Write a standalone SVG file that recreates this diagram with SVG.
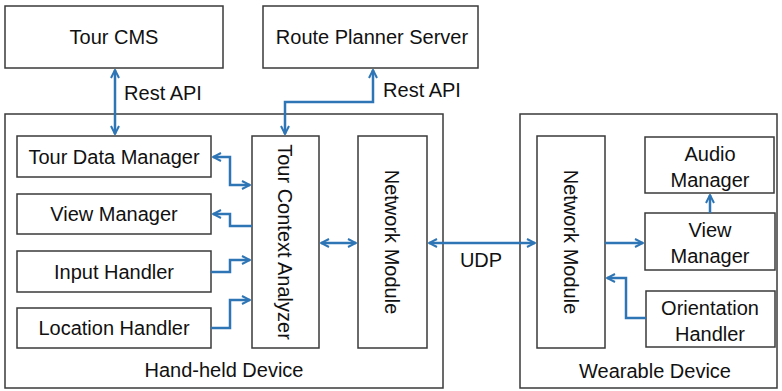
<svg xmlns="http://www.w3.org/2000/svg" width="782" height="391" viewBox="0 0 782 391">
<style>
.box{fill:#fff;stroke:#3a3a3a;stroke-width:1.5}
.t{font-family:"Liberation Sans",Arial,sans-serif;font-size:20px;fill:#111;text-anchor:middle}
.c{fill:none;stroke:#2e75b6;stroke-width:2.5}
</style>
<defs>
<marker id="a" viewBox="0 0 10 10" refX="9" refY="5" markerWidth="4" markerHeight="4" orient="auto-start-reverse" markerUnits="strokeWidth">
<path d="M1,1 L9,5 L1,9" fill="none" stroke="#2e75b6" stroke-width="2"/>
</marker>
</defs>
<rect width="782" height="391" fill="#fff"/>
<g id="handheld"><rect class="box" x="5" y="114" width="438" height="274"/><text class="t" x="224" y="377">Hand-held Device</text></g>
<g id="wearable"><rect class="box" x="520" y="114" width="257" height="274"/><text class="t" x="655" y="378">Wearable Device</text></g>
<g id="tourcms"><rect class="box" x="5" y="6" width="218" height="62"/><text class="t" x="114" y="44">Tour CMS</text></g>
<g id="routeplanner"><rect class="box" x="263" y="6" width="215" height="62"/><text class="t" x="372" y="44">Route Planner Server</text></g>
<g id="tdm"><rect class="box" x="17" y="136" width="194" height="41"/><text class="t" x="114" y="164">Tour Data Manager</text></g>
<g id="vm"><rect class="box" x="17" y="194" width="194" height="40"/><text class="t" x="114" y="221">View Manager</text></g>
<g id="ih"><rect class="box" x="17" y="251" width="194" height="41"/><text class="t" x="114" y="279">Input Handler</text></g>
<g id="lh"><rect class="box" x="17" y="308" width="194" height="40"/><text class="t" x="114" y="335">Location Handler</text></g>
<g id="tca"><rect class="box" x="252" y="136" width="67" height="212"/><text class="t" transform="translate(285,242) rotate(90)" y="7">Tour Context Analyzer</text></g>
<g id="nm1"><rect class="box" x="358" y="136" width="69" height="212"/><text class="t" transform="translate(392,242) rotate(90)" y="7">Network Module</text></g>
<g id="nm2"><rect class="box" x="537" y="136" width="68" height="212"/><text class="t" transform="translate(571,242) rotate(90)" y="7">Network Module</text></g>
<g id="am"><rect class="box" x="645" y="137" width="129" height="56"/><text class="t" x="710" y="161">Audio</text><text class="t" x="710" y="187">Manager</text></g>
<g id="vm2"><rect class="box" x="645" y="213" width="130" height="57"/><text class="t" x="710" y="237">View</text><text class="t" x="710" y="263">Manager</text></g>
<g id="oh"><rect class="box" x="646" y="291" width="129" height="56"/><text class="t" x="710" y="315">Orientation</text><text class="t" x="710" y="341">Handler</text></g>
<g id="connectors">
<path class="c" d="M115,70 V134" marker-start="url(#a)" marker-end="url(#a)"/>
<path class="c" d="M373,70 V102 H285 V134" marker-start="url(#a)" marker-end="url(#a)"/>
<path class="c" d="M213,157 H230 V185 H250" marker-start="url(#a)" marker-end="url(#a)"/>
<path class="c" d="M252,226 H230 V214 H213" marker-end="url(#a)"/>
<path class="c" d="M211,272 H230 V260 H250" marker-end="url(#a)"/>
<path class="c" d="M211,328 H230 V300 H250" marker-end="url(#a)"/>
<path class="c" d="M321,243 H356" marker-start="url(#a)" marker-end="url(#a)"/>
<path class="c" d="M429,243 H535" marker-start="url(#a)" marker-end="url(#a)"/>
<path class="c" d="M605,243 H643" marker-end="url(#a)"/>
<path class="c" d="M710,213 V195" marker-end="url(#a)"/>
<path class="c" d="M646,318 H626 V278 H607" marker-end="url(#a)"/>
<text class="t" x="163" y="100">Rest API</text>
<text class="t" x="422" y="97">Rest API</text>
<text class="t" x="481" y="267">UDP</text>
</g>
</svg>
